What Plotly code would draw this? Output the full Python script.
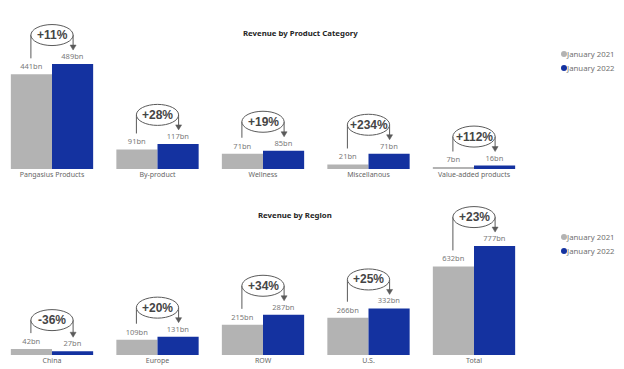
import plotly.graph_objects as go

# ---------------- data ----------------
series_names = ["January 2021", "January 2022"]

product_categories = ["Pangasius Products", "By-product", "Wellness", "Miscellanous", "Value-added products"]
product_2021 = [441, 91, 71, 21, 7]
product_2022 = [489, 117, 85, 71, 16]
product_change = ["+11%", "+28%", "+19%", "+234%", "+112%"]

region_categories = ["China", "Europe", "ROW", "U.S.", "Total"]
region_2021 = [42, 109, 215, 266, 632]
region_2022 = [27, 131, 287, 332, 777]
region_change = ["-36%", "+20%", "+34%", "+25%", "+23%"]

titles = ["Revenue by Product Category", "Revenue by Region"]

# ---------------- style / geometry ----------------
PAGE_OFF = 8                      # page body margin of the html page
W, H = 624 - PAGE_OFF, 369 - PAGE_OFF
GRAY = "#b3b3b3"
BLUE = "#1432a0"
LINE = "#5a5a5a"
FONT = "Noto Sans"
CAT_PX = 105.5                    # pixels per category slot
FIRST_CENTER = 52 - PAGE_OFF      # pixel centre of first category
X_RANGE0 = -FIRST_CENTER / CAT_PX
HEADROOM = 1.515


def px_x(p):
    return (p - PAGE_OFF) / W


def px_y(p):
    return 1 - (p - PAGE_OFF) / H


fig = go.Figure()
shapes = []
annotations = []


def add_panel(cats, v1, v2, pct, title, xname, yname, px_top, px_bottom, title_px, legend_px, title_x):
    n = len(cats)
    idx = list(range(n))
    ymax = max(v1 + v2) * HEADROOM
    ppu = (px_bottom - px_top) / ymax
    x_end_px = FIRST_CENTER + CAT_PX * (n - 0.5)

    def dy(p):
        return p / ppu

    def dx(p):
        return p / CAT_PX

    for vals, name, col in ((v1, series_names[0], GRAY), (v2, series_names[1], BLUE)):
        fig.add_trace(go.Bar(
            x=idx, y=vals, name=name, marker=dict(color=col, line=dict(width=0)),
            text=vals, texttemplate="%{y}bn", textposition="outside",
            textfont=dict(size=7.5, color="#7a7a7a", family=FONT),
            cliponaxis=False, showlegend=False,
            xaxis=xname, yaxis=yname, hoverinfo="skip",
        ))

    for i in idx:
        a, b = v1[i], v2[i]
        xl, xr = i - 0.2, i + 0.2
        y0 = a + dy(16)
        level = max(a, b) + dy(29)
        tip = b + dy(14)
        shapes.append(dict(type="path", xref=xname, yref=yname,
                           path=f"M {xl},{y0} L {xl},{level} L {xr},{level} L {xr},{tip + dy(4)}",
                           line=dict(color=LINE, width=1)))
        shapes.append(dict(type="path", xref=xname, yref=yname,
                           path=f"M {xr - dx(3)},{tip + dy(5)} L {xr + dx(3)},{tip + dy(5)} L {xr},{tip} Z",
                           fillcolor=LINE, line=dict(color=LINE, width=0.5)))
        shapes.append(dict(type="circle", xref=xname, yref=yname,
                           x0=xl, x1=xr, y0=level - dy(10.5), y1=level + dy(10.5),
                           fillcolor="white", line=dict(color=LINE, width=1)))
        annotations.append(dict(x=i, y=level, xref=xname, yref=yname, text=pct[i], showarrow=False,
                                font=dict(size=12, color="#454545", family="Liberation Sans", weight="bold"),
                                xanchor="center", yanchor="middle"))

    annotations.append(dict(x=px_x(title_x), y=px_y(title_px), xref="paper", yref="paper",
                            text=f"<b>{title}</b>", showarrow=False,
                            font=dict(size=7.8, color="#252525", family=FONT),
                            xanchor="center", yanchor="middle"))
    for k, (name, col) in enumerate(zip(series_names, (GRAY, BLUE))):
        row_y = px_y(legend_px + 14 * k)
        shapes.append(dict(type="circle", xref="paper", yref="paper",
                           xsizemode="pixel", ysizemode="pixel",
                           xanchor=px_x(564), yanchor=row_y,
                           x0=-3, x1=3, y0=-3, y1=3,
                           fillcolor=col, line=dict(width=0)))
        annotations.append(dict(x=px_x(565.5), y=row_y, xref="paper", yref="paper",
                                text=name, showarrow=False, borderpad=0, borderwidth=0,
                                font=dict(size=7.8, color="#707070", family=FONT),
                                xanchor="left", yanchor="middle"))

    axis_x = dict(domain=[0, x_end_px / W], range=[X_RANGE0, n - 0.5], tickvals=idx, ticktext=cats,
                  showgrid=False, zeroline=False, showline=False, ticks="",
                  tickfont=dict(size=7, color="#666666", family=FONT),
                  anchor=yname, fixedrange=True, automargin=False)
    axis_y = dict(domain=[px_y(px_bottom), px_y(px_top)], range=[0, ymax], visible=False,
                  anchor=xname, fixedrange=True)
    return axis_x, axis_y


ax1, ay1 = add_panel(product_categories, product_2021, product_2022, product_change, titles[0],
                     "x", "y", 10, 169, 33, 54, 300)
ax2, ay2 = add_panel(region_categories, region_2021, region_2022, region_change, titles[1],
                     "x2", "y2", 190, 355, 215, 237, 295)

fig.update_layout(
    width=W, height=H,
    margin=dict(l=0, r=0, t=0, b=0),
    paper_bgcolor="white", plot_bgcolor="white",
    barmode="group", bargap=0.22, bargroupgap=0,
    xaxis=ax1, yaxis=ay1, xaxis2=ax2, yaxis2=ay2,
    shapes=shapes, annotations=annotations,
    showlegend=False,
    font=dict(family=FONT),
)

fig.write_html("out.html")
